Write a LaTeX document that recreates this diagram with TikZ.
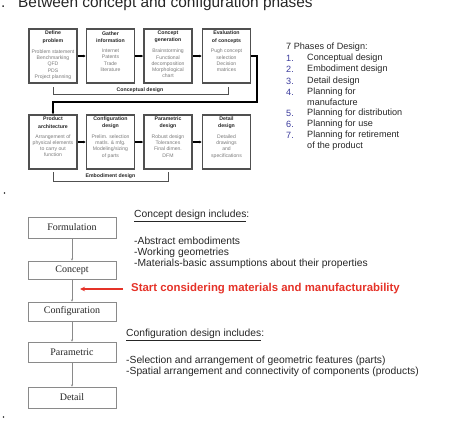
\documentclass[tikz,border=0pt]{standalone}
\usepackage{fontspec}
\setmainfont{Liberation Serif}
\newfontfamily\arial{Liberation Sans}
\usetikzlibrary{arrows.meta}
\definecolor{boxgray}{HTML}{505050}
\definecolor{bodygray}{HTML}{7A7A7A}
\definecolor{txt}{HTML}{262626}
\definecolor{numblue}{HTML}{3A3A9C}
\definecolor{redtxt}{HTML}{E53228}
\definecolor{lowbox}{HTML}{8A8A8A}
\begin{document}
\begin{tikzpicture}[x=1bp,y=-1bp,
  sbox/.style={draw=boxgray, line width=1.2bp, minimum width=48bp, minimum height=54bp, inner sep=0pt, fill=white},
  stitle/.style={font=\arial\bfseries\fontsize{5.2bp}{7.3bp}\selectfont, align=center, text=txt, inner sep=0pt},
  sbody/.style={font=\arial\fontsize{5.1bp}{6.2bp}\selectfont, align=center, text=bodygray, inner sep=0pt, anchor=north},
  barrow/.style={line width=1.2bp, draw=black, -{Latex[length=2.6bp,width=2.8bp]}},
  bracket/.style={line width=0.9bp, draw=boxgray},
  brlabel/.style={font=\arial\bfseries\fontsize{5.2bp}{6bp}\selectfont, text=txt, inner sep=0pt},
  phase/.style={font=\arial\fontsize{9.1bp}{11bp}\selectfont, text=txt, anchor=west, inner sep=0pt},
  phnum/.style={font=\arial\fontsize{9.1bp}{11bp}\selectfont, text=numblue, anchor=west, inner sep=0pt},
  lbox/.style={draw=lowbox, line width=0.8bp, fill=white, minimum width=88bp, inner sep=0pt, font=\fontsize{10bp}{12bp}\selectfont, text=txt},
  larrow/.style={draw=lowbox, line width=0.6bp, -{Stealth[length=2.2bp,width=2.2bp]}},
  desc/.style={font=\arial\fontsize{10.3bp}{12bp}\selectfont, text=txt, anchor=west, inner sep=0pt}
]
\useasboundingbox (0,0) rectangle (474,424);
\clip (0,0) rectangle (474,424);

% title (cut off at top)
\node[font=\arial\fontsize{15.4bp}{18bp}\selectfont, text=txt, anchor=base west, inner sep=0pt] (ttl) at (18,7.5) {Between concept and configuration phases};
\node[font=\arial\fontsize{15.4bp}{18bp}\selectfont, text=txt, anchor=base west, inner sep=0pt] (tdot) at (1,7.5) {.};

% ---- top flow, row 1
\node[sbox] (b1) at (53,56) {};
\node[sbox] (b2) at (110.5,56) {};
\node[sbox] (b3) at (168,56) {};
\node[sbox] (b4) at (226.5,56) {};
\node[stitle] (t1) at (53,37) {Define\\problem};
\node[stitle] (t2) at (110.5,37) {Gather\\information};
\node[stitle] (t3) at (168,37) {Concept\\generation};
\node[stitle] (t4) at (226.5,37) {Evaluation\\of concepts};
\node[sbody] (d1) at (53,49.5) {Problem statement\\Benchmarking\\QFD\\PDS\\Project planning};
\node[sbody] (d2) at (110.5,49) {Internet\\Patents\\Trade\\literature};
\node[sbody] (d3) at (168,49) {Brainstorming\\Functional\\decomposition\\Morphological\\chart};
\node[sbody] (d4) at (226.5,49) {Pugh concept\\selection\\Decision\\matrices};
\draw[barrow] (b1) -- (b2);
\draw[barrow] (b2) -- (b3);
\draw[barrow] (b3) -- (b4);

\draw[bracket] (53,87) -- (53,94) -- (228,94) -- (228,87);
\node[brlabel] (cdl) at (140,90.3) {Conceptual design};

% ---- row 2
\node[sbox] (b5) at (53,142) {};
\node[sbox] (b6) at (110.5,142) {};
\node[sbox] (b7) at (168,142) {};
\node[sbox] (b8) at (226.5,142) {};
\node[stitle] (t5) at (53,122.5) {Product\\architecture};
\node[stitle] (t6) at (110.5,122.5) {Configuration\\design};
\node[stitle] (t7) at (168,122.5) {Parametric\\design};
\node[stitle] (t8) at (226.5,122.5) {Detail\\design};
\node[sbody] (d5) at (53,134.5) {Arrangement of\\physical elements\\to carry out\\function};
\node[sbody] (d6) at (110.5,134.5) {Prelim. selection\\matls. \& mfg.\\Modeling/sizing\\of parts};
\node[sbody] (d7) at (168,134.5) {Robust design\\Tolerances\\Final dimen.\\DFM};
\node[sbody] (d8) at (226.5,134.5) {Detailed\\drawings\\and\\specifications};
\draw[barrow] (b5) -- (b6);
\draw[barrow] (b6) -- (b7);
\draw[barrow] (b7) -- (b8);

\coordinate (turn) at (257,102);
\draw[barrow] (b4.east) -| (turn) -| (b5.north);

\draw[bracket] (53,172) -- (53,181) -- (168,181) -- (168,172);
\node[brlabel] (edl) at (110.5,176.5) {Embodiment design};

% ---- 7 phases
\node[phase] (ph0) at (286,47) {7 Phases of Design:};
\node[phnum] (n1) at (286,58) {1.};
\node[phase] (p1) at (307,58) {Conceptual design};
\node[phnum] (n2) at (286,69.5) {2.};
\node[phase] (p2) at (307,69.5) {Embodiment design};
\node[phnum] (n3) at (286,81) {3.};
\node[phase] (p3) at (307,81) {Detail design};
\node[phnum] (n4) at (286,92) {4.};
\node[phase] (p4) at (307,92) {Planning for};
\node[phase] (p4b) at (307,102.5) {manufacture};
\node[phnum] (n5) at (286,113) {5.};
\node[phase] (p5) at (307,113) {Planning for distribution};
\node[phnum] (n6) at (286,124) {6.};
\node[phase] (p6) at (307,124) {Planning for use};
\node[phnum] (n7) at (286,135.5) {7.};
\node[phase] (p7) at (307,135.5) {Planning for retirement};
\node[phase] (p7b) at (307,146.5) {of the product};

% bullets
\fill[txt] (4.5,193) circle (0.9bp);
\fill[txt] (3.5,417) circle (0.9bp);

% ---- lower flow
\node[lbox, minimum height=21bp] (fo) at (72,227.5) {Formulation};
\node[lbox, minimum height=18bp] (co) at (72,270) {Concept};
\node[lbox, minimum height=19bp] (cf) at (72,311.5) {Configuration};
\node[lbox, minimum height=20bp] (pa) at (72,352) {Parametric};
\node[lbox, minimum height=21bp] (de) at (72,397.5) {Detail};
\draw[larrow] (fo) -- (co);
\draw[larrow] (co) -- (cf);
\draw[larrow] (cf) -- (pa);
\draw[larrow] (pa) -- (de);

\node[desc] (cdi) at (134,216) {\underline{Concept design includes}:};
\node[desc] (c1) at (134,241) {-Abstract embodiments};
\node[desc] (c2) at (134,252.5) {-Working geometries};
\node[desc] (c3) at (134,264) {-Materials-basic assumptions about their properties};

\node[font=\arial\bfseries\fontsize{11.4bp}{13bp}\selectfont, text=redtxt, anchor=west, inner sep=0pt] (red) at (131,289) {Start considering materials and manufacturability};
\coordinate (rs) at (123,289);
\coordinate (re) at (80,289);
\draw[draw=redtxt, line width=1.5bp, -{Stealth[length=5bp,width=4.5bp]}] (rs) -- (re);

\node[desc] (cfi) at (126,335) {\underline{Configuration design includes}:};
\node[desc] (s1) at (126,361) {-Selection and arrangement of geometric features (parts)};
\node[desc] (s2) at (126,372) {-Spatial arrangement and connectivity of components (products)};
\end{tikzpicture}
\end{document}
